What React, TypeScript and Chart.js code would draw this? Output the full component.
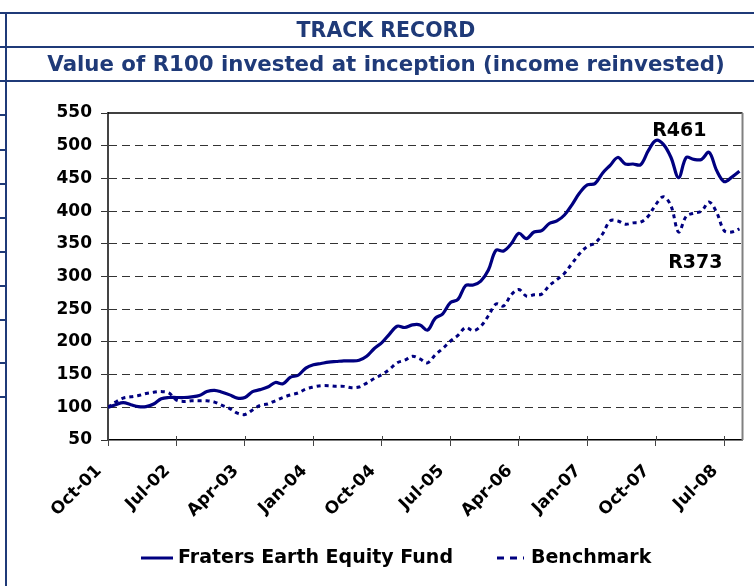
import React, { useEffect, useRef } from "react";
import { Chart, registerables } from "chart.js";

Chart.register(...registerables);

const months = [
  "Oct-01","Nov-01","Dec-01","Jan-02","Feb-02","Mar-02","Apr-02","May-02","Jun-02","Jul-02","Aug-02","Sep-02",
  "Oct-02","Nov-02","Dec-02","Jan-03","Feb-03","Mar-03","Apr-03","May-03","Jun-03","Jul-03","Aug-03","Sep-03",
  "Oct-03","Nov-03","Dec-03","Jan-04","Feb-04","Mar-04","Apr-04","May-04","Jun-04","Jul-04","Aug-04","Sep-04",
  "Oct-04","Nov-04","Dec-04","Jan-05","Feb-05","Mar-05","Apr-05","May-05","Jun-05","Jul-05","Aug-05","Sep-05",
  "Oct-05","Nov-05","Dec-05","Jan-06","Feb-06","Mar-06","Apr-06","May-06","Jun-06","Jul-06","Aug-06","Sep-06",
  "Oct-06","Nov-06","Dec-06","Jan-07","Feb-07","Mar-07","Apr-07","May-07","Jun-07","Jul-07","Aug-07","Sep-07",
  "Oct-07","Nov-07","Dec-07","Jan-08","Feb-08","Mar-08","Apr-08","May-08","Jun-08","Jul-08","Aug-08","Sep-08",
];

const tickLabels = ["Oct-01","Jul-02","Apr-03","Jan-04","Oct-04","Jul-05","Apr-06","Jan-07","Oct-07","Jul-08"];

const fundValues = [
  100, 104, 107, 104, 101, 101, 105, 113, 115, 115, 115, 116,
  118, 124, 126, 123, 119, 114, 115, 124, 127, 131, 138, 136,
  146, 149, 160, 165, 167, 169, 170, 171, 171, 172, 178, 190,
  199, 212, 224, 222, 226, 226, 218, 236, 243, 260, 265, 286,
  287, 293, 310, 340, 339, 350, 366, 358, 368, 370, 381, 385,
  394, 410, 428, 440, 442, 458, 470, 482, 472, 472, 471, 492,
  508, 502, 482, 451, 482, 479, 479, 490, 462, 445, 452, 461,
];

const benchmarkValues = [
  100, 108, 114, 116, 118, 121, 123, 124, 122, 111, 109, 110,
  110, 110, 108, 103, 98, 91, 89, 96, 103, 105, 110, 115,
  119, 122, 128, 131, 133, 133, 132, 132, 130, 131, 137, 144,
  150, 158, 168, 172, 178, 174, 168, 180, 190, 201, 210, 222,
  217, 224, 240, 258, 255, 272, 280, 270, 272, 273, 286, 295,
  305, 320, 335, 346, 351, 365, 385, 385, 380, 382, 383, 392,
  410, 422, 408, 368, 392, 397, 400, 414, 398, 370, 368, 373,
];

const seriesNames = ["Fraters Earth Equity Fund", "Benchmark"];
const yTicks = [50, 100, 150, 200, 250, 300, 350, 400, 450, 500, 550];
const endLabels = ["R461", "R373"];

const NAVY = "#000080";
const FRAME = "#1f3a78";
const FONT = "'DejaVu Sans', Verdana, sans-serif";

export default function App() {
  const canvasRef = useRef<HTMLCanvasElement | null>(null);

  useEffect(() => {
    const canvas = canvasRef.current;
    if (!canvas) return;

    const tickIdx = tickLabels.map((l) => months.indexOf(l));

    const extras = {
      id: "extras",
      afterDraw(chart: any) {
        const { ctx, chartArea: a, scales } = chart;
        ctx.save();
        // plot border top & right
        ctx.lineWidth = 1.5;
        ctx.strokeStyle = "#000";
        ctx.beginPath();
        ctx.moveTo(a.left, a.top);
        ctx.lineTo(a.right, a.top);
        ctx.stroke();
        ctx.strokeStyle = "#808080";
        ctx.lineWidth = 2;
        ctx.beginPath();
        ctx.moveTo(a.right, a.top);
        ctx.lineTo(a.right, a.bottom);
        ctx.stroke();
        // x tick marks crossing the axis upward
        ctx.strokeStyle = "#444";
        ctx.lineWidth = 1;
        tickIdx.forEach((i) => {
          const x = Math.round(scales.x.getPixelForValue(i)) + 0.5;
          ctx.beginPath();
          ctx.moveTo(x, a.bottom - 4);
          ctx.lineTo(x, a.bottom);
          ctx.stroke();
        });
        // end annotations
        ctx.fillStyle = "#000";
        ctx.font = `bold 19px ${FONT}`;
        ctx.textAlign = "center";
        ctx.textBaseline = "middle";
        ctx.fillText(endLabels[0], scales.x.getPixelForValue(75.1), scales.y.getPixelForValue(522));
        ctx.fillText(endLabels[1], scales.x.getPixelForValue(77.2), scales.y.getPixelForValue(320));
        // legend
        const ly = 558;
        const ds = chart.data.datasets;
        ctx.lineWidth = 3;
        ctx.strokeStyle = ds[0].borderColor;
        ctx.setLineDash([]);
        ctx.beginPath();
        ctx.moveTo(141, ly);
        ctx.lineTo(173, ly);
        ctx.stroke();
        ctx.strokeStyle = ds[1].borderColor;
        ctx.setLineDash([7, 6]);
        ctx.beginPath();
        ctx.moveTo(497, ly);
        ctx.lineTo(524, ly);
        ctx.stroke();
        ctx.setLineDash([]);
        ctx.font = `bold 19px ${FONT}`;
        ctx.textAlign = "left";
        ctx.fillText(ds[0].label, 178, ly);
        ctx.fillText(ds[1].label, 531, ly);
        ctx.restore();
      },
    };

    const chart = new Chart(canvas, {
      type: "line",
      data: {
        datasets: [
          {
            label: seriesNames[0],
            data: fundValues.map((v, i) => ({ x: i, y: v })),
            borderColor: NAVY,
            borderWidth: 3.2,
            pointRadius: 0,
            tension: 0.35,
            fill: false,
          },
          {
            label: seriesNames[1],
            data: benchmarkValues.map((v, i) => ({ x: i, y: v })),
            borderColor: NAVY,
            borderWidth: 3,
            borderDash: [4, 4],
            pointRadius: 0,
            tension: 0.35,
            fill: false,
          },
        ],
      },
      options: {
        animation: false,
        responsive: false,
        maintainAspectRatio: false,
        devicePixelRatio: 1,
        layout: { padding: { left: 0, right: 11, top: 113, bottom: 0 } },
        plugins: {
          legend: { display: false },
          tooltip: { enabled: false },
        },
        scales: {
          x: {
            type: "linear",
            min: 0,
            max: 83.4,
            afterBuildTicks: (scale: any) => {
              scale.ticks = tickIdx.map((v) => ({ value: v }));
            },
            afterFit: (scale: any) => {
              scale.height = 146;
            },
            ticks: {
              autoSkip: false,
              maxRotation: 45,
              minRotation: 45,
              padding: 15,
              labelOffset: -9,
              color: "#000",
              font: { family: FONT, size: 17, weight: "bold" },
              callback: (value: any) => months[Math.round(Number(value))] ?? "",
            },
            grid: {
              drawOnChartArea: false,
              drawTicks: true,
              tickLength: 6,
              color: "#444",
              tickColor: "#444",
            },
            border: { display: true, color: "#000", width: 1.5 },
          },
          y: {
            min: 50,
            max: 550,
            afterBuildTicks: (scale: any) => {
              scale.ticks = yTicks.map((v) => ({ value: v }));
            },
            afterFit: (scale: any) => {
              scale.width = 108;
            },
            ticks: {
              padding: 9,
              color: "#000",
              font: { family: FONT, size: 17, weight: "bold" },
            },
            grid: {
              drawTicks: true,
              tickLength: 7,
              lineWidth: 1,
              color: (c: any) =>
                c.tick && (c.tick.value === 50 || c.tick.value === 550) ? "rgba(0,0,0,0)" : "#333",
              tickColor: "#333",
              tickBorderDash: [],
            },
            border: { display: true, color: "#444", width: 2, dash: [8, 5] },
          },
        },
      },
      plugins: [extras],
    });

    return () => chart.destroy();
  }, []);

  const hLine = (top: number, left = 0, width = 754) => (
    <div key={`h${top}-${left}`} style={{ position: "absolute", top, left, width, height: 2, background: FRAME }} />
  );

  const sideMarks = [114, 149, 183, 217, 251, 285, 319, 362, 396];

  const headStyle = (top: number, size: number): React.CSSProperties => ({
    position: "absolute",
    left: 7,
    width: 758,
    top,
    height: 32,
    lineHeight: "32px",
    textAlign: "center",
    fontFamily: FONT,
    fontWeight: "bold",
    fontSize: size,
    color: FRAME,
    whiteSpace: "nowrap",
  });

  return (
    <div
      style={{
        position: "absolute",
        left: 0,
        top: 0,
        width: 754,
        height: 586,
        overflow: "hidden",
        background: "#fff",
      }}
    >
      <canvas ref={canvasRef} width={754} height={586} style={{ position: "absolute", left: 0, top: 0, width: 754, height: 586 }} />
      {hLine(12)}
      {hLine(46)}
      {hLine(80)}
      {sideMarks.map((y) => hLine(y, 0, 6))}
      <div style={{ position: "absolute", left: 5, top: 12, width: 2, height: 574, background: FRAME }} />
      <div style={headStyle(14, 20.5)}>TRACK RECORD</div>
      <div style={headStyle(48, 21.3)}>Value of R100 invested at inception (income reinvested)</div>
    </div>
  );
}
